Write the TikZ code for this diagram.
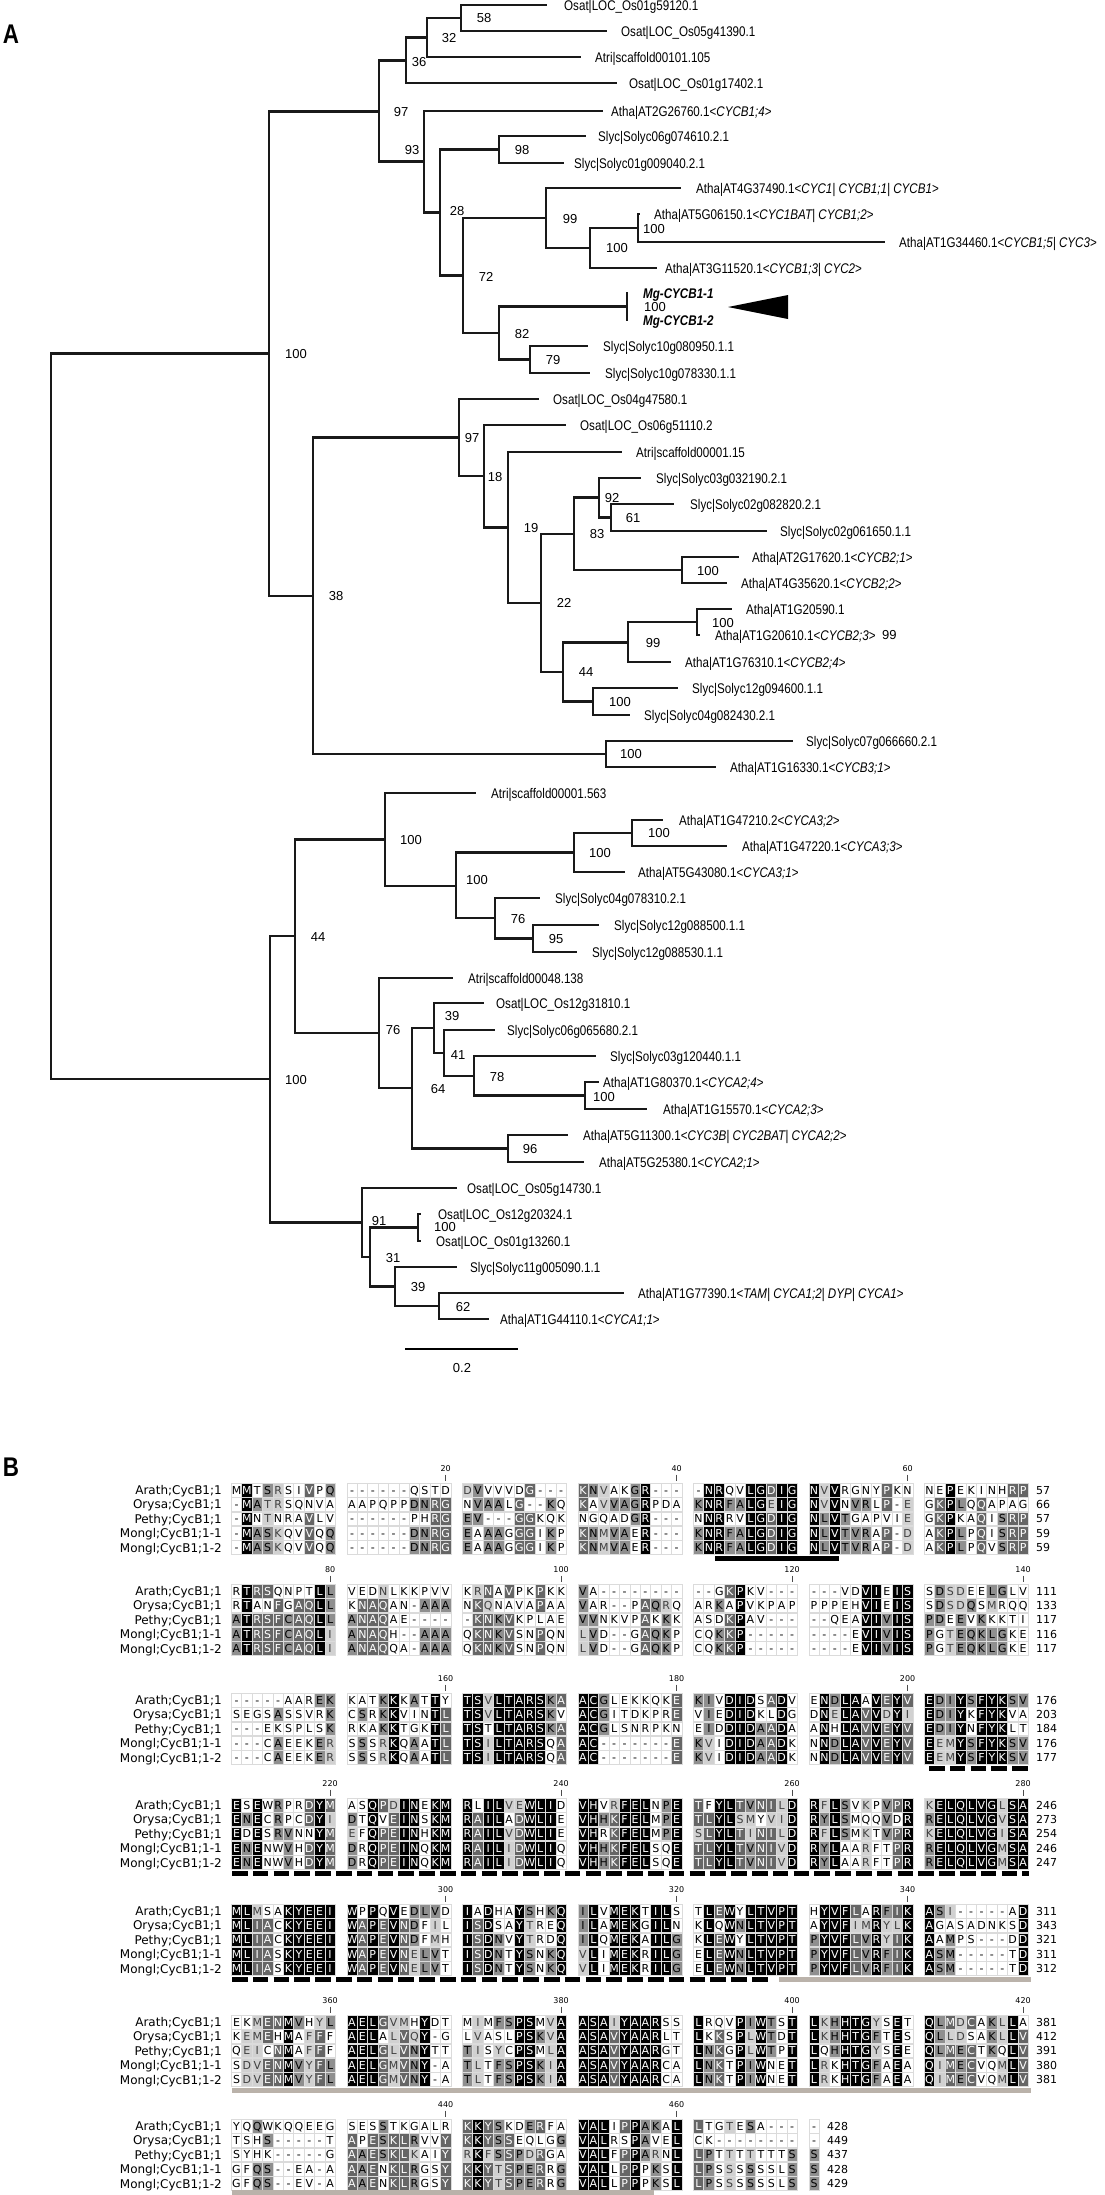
\documentclass[tikz,border=0pt]{standalone}
\usepackage{fontspec}
\setmainfont{Liberation Sans}
\newfontfamily\treefont[FakeStretch=0.83]{Liberation Sans}
\newfontfamily\djfont{DejaVu Sans}
\newcommand\myleaf{\treefont\fontsize{14}{16}\selectfont}
\newcommand\mybs{\fontsize{13}{15}\selectfont}
\newcommand\myres{\djfont\fontsize{11}{13}\selectfont}
\newcommand\mylab{\djfont\fontsize{12}{14}\selectfont}
\newcommand\myrul{\djfont\fontsize{8}{9}\selectfont}
\newcommand\myend{\djfont\fontsize{11}{13}\selectfont}
\newcommand\mypanel{\treefont\bfseries\fontsize{27}{29}\selectfont}
\definecolor{cfourc}{gray}{0.40}
\definecolor{cthreec}{gray}{0.56}
\definecolor{ctwoc}{gray}{0.82}
\definecolor{cellgrid}{gray}{0.86}
\definecolor{bargrey}{RGB}{186,178,170}
\tikzset{
  br/.style={line width=2.1pt, black!90},
  lf/.style={font=\myleaf, anchor=west, inner sep=0pt, text height=10pt, text depth=0pt},
  bs/.style={font=\mybs, anchor=center, inner sep=0pt, text height=9.3pt, text depth=0pt},
  cell/.style={draw=cellgrid, line width=0.5pt},
  cfive/.style={fill=black}, cfivet/.style={text=white},
  cfour/.style={fill=cfourc}, cfourt/.style={text=white},
  cthree/.style={fill=cthreec}, cthreet/.style={text=black},
  ctwo/.style={fill=ctwoc}, ctwot/.style={text=black!75},
  czero/.style={}, czerot/.style={text=black},
  cgap/.style={}, cgapt/.style={text=black},
  celltxt/.style={font=\myres, anchor=base, inner sep=0pt},
  rowlab/.style={font=\mylab, anchor=east, inner sep=0pt, text height=8.8pt, text depth=0pt},
  endnum/.style={font=\myend, anchor=west, inner sep=0pt, text height=8pt, text depth=0pt},
  rulnum/.style={font=\myrul, anchor=center, inner sep=0pt, text height=5.8pt, text depth=0pt},
  rultick/.style={line width=0.6pt, black!70},
  blackbar/.style={line width=5pt, black},
  dashbar/.style={line width=5pt, black, dash pattern=on 15.6pt off 5.2pt},
  greybar/.style={line width=5pt, bargrey},
}
\newcommand\alncell[4]{%
  \path[cell,#1] (#2-5.2,#3-6.9) rectangle (#2+5.2,#3+6.9);
  \node[celltxt,#1t] at (#2,#3+4) {#4};}
\ExplSyntaxOn
\tl_new:N \l__aln_a_tl
\tl_new:N \l__aln_b_tl
\tl_new:N \l__aln_c_tl
\tl_new:N \l__aln_d_tl
\tl_new:N \l__aln_e_tl
\tl_new:N \l__aln_ca_tl
\tl_new:N \l__aln_cb_tl
\tl_new:N \l__aln_cc_tl
\tl_new:N \l__aln_cd_tl
\tl_new:N \l__aln_ce_tl
\tl_new:N \l__aln_x_tl
\tl_new:N \l__aln_y_tl
\tl_new:N \l__aln_yz_tl
\tl_new:N \l__aln_st_tl
\tl_const:Nn \c__aln_gap_tl { - }
\int_new:N \l__aln_cnt_int
\int_new:N \l__aln_sim_int
\cs_new:Npn \__aln_group:n #1
  {
    \str_case:nnF {#1}
      {
        {I}{h} {L}{h} {V}{h} {M}{h}
        {F}{a} {Y}{a} {W}{a}
        {S}{s} {T}{s}
        {D}{d} {E}{d}
        {K}{b} {R}{b}
        {N}{n} {Q}{n}
      }
      {#1}
  }
\cs_generate_variant:Nn \__aln_group:n { V }
\cs_new_protected:Npn \__aln_cell:nN #1#2
  {
    \tl_set:Nx \l__aln_y_tl { \fp_eval:n { \l__aln_yz_tl + 14.4 * #1 } }
    \tl_if_eq:NNTF #2 \c__aln_gap_tl
      { \tl_set:Nn \l__aln_st_tl { cgap } }
      {
        \int_zero:N \l__aln_cnt_int
        \int_zero:N \l__aln_sim_int
        \clist_map_inline:nn
          { \l__aln_ca_tl , \l__aln_cb_tl , \l__aln_cc_tl , \l__aln_cd_tl , \l__aln_ce_tl }
          {
            \tl_if_eq:NNT ##1 #2 { \int_incr:N \l__aln_cnt_int }
            \str_if_eq:eeT { \__aln_group:V ##1 } { \__aln_group:V #2 }
              { \int_incr:N \l__aln_sim_int }
          }
        \int_compare:nNnTF \l__aln_cnt_int = 5
          { \tl_set:Nn \l__aln_st_tl { cfive } }
          {
            \int_compare:nNnTF \l__aln_cnt_int = 4
              { \tl_set:Nn \l__aln_st_tl { cfour } }
              {
                \int_compare:nNnTF \l__aln_cnt_int = 3
                  { \tl_set:Nn \l__aln_st_tl { cthree } }
                  {
                    \int_compare:nNnTF \l__aln_sim_int > 3
                      { \tl_set:Nn \l__aln_st_tl { ctwo } }
                      { \tl_set:Nn \l__aln_st_tl { czero } }
                  }
              }
          }
      }
    \use:e { \exp_not:N \alncell { \l__aln_st_tl } { \l__aln_x_tl } { \l__aln_y_tl } { #2 } }
  }
\cs_new_protected:Npn \AlnBlock #1#2#3#4#5#6
  {
    \tl_set:Nn \l__aln_yz_tl {#1}
    \tl_set:Nn \l__aln_a_tl {#2} \tl_remove_all:Nn \l__aln_a_tl { ~ }
    \tl_set:Nn \l__aln_b_tl {#3} \tl_remove_all:Nn \l__aln_b_tl { ~ }
    \tl_set:Nn \l__aln_c_tl {#4} \tl_remove_all:Nn \l__aln_c_tl { ~ }
    \tl_set:Nn \l__aln_d_tl {#5} \tl_remove_all:Nn \l__aln_d_tl { ~ }
    \tl_set:Nn \l__aln_e_tl {#6} \tl_remove_all:Nn \l__aln_e_tl { ~ }
    \int_step_inline:nn { \str_count:N \l__aln_a_tl }
      {
        \tl_set:Nx \l__aln_ca_tl { \str_item:Nn \l__aln_a_tl {##1} }
        \tl_set:Nx \l__aln_cb_tl { \str_item:Nn \l__aln_b_tl {##1} }
        \tl_set:Nx \l__aln_cc_tl { \str_item:Nn \l__aln_c_tl {##1} }
        \tl_set:Nx \l__aln_cd_tl { \str_item:Nn \l__aln_d_tl {##1} }
        \tl_set:Nx \l__aln_ce_tl { \str_item:Nn \l__aln_e_tl {##1} }
        \tl_set:Nx \l__aln_x_tl
          { \fp_eval:n { 236.5 + 115.5 * \int_div_truncate:nn {##1-1} {10} + 10.4 * \int_mod:nn {##1-1} {10} } }
        \__aln_cell:nN {0} \l__aln_ca_tl
        \__aln_cell:nN {1} \l__aln_cb_tl
        \__aln_cell:nN {2} \l__aln_cc_tl
        \__aln_cell:nN {3} \l__aln_cd_tl
        \__aln_cell:nN {4} \l__aln_ce_tl
      }
  }
\ExplSyntaxOff
\newcommand\alnlab[1]{%
  \node[rowlab] at (222,#1) {Arath;CycB1;1};
  \node[rowlab] at (222,#1+14.4) {Orysa;CycB1;1};
  \node[rowlab] at (222,#1+28.8) {Pethy;CycB1;1};
  \node[rowlab] at (222,#1+43.2) {Mongl;CycB1;1-1};
  \node[rowlab] at (222,#1+57.6) {Mongl;CycB1;1-2};}
\newcommand\alnend[7]{%
  \node[endnum] at (#2,#1) {#3};
  \node[endnum] at (#2,#1+14.4) {#4};
  \node[endnum] at (#2,#1+28.8) {#5};
  \node[endnum] at (#2,#1+43.2) {#6};
  \node[endnum] at (#2,#1+57.6) {#7};}
\newcommand\alnrul[3]{%
  \pgfmathsetmacro\myrx{236.5+115.5*floor((#2-1)/10)+10.4*mod(#2-1,10)}%
  \node[rulnum] at (\myrx,#1-21) {#3};
  \draw[rultick] (\myrx,#1-15.5) -- (\myrx,#1-9.5);}
\newcommand\inode[7]{%
  \coordinate (#1) at (#3,#4);
  \draw[br] (#2) |- (#1);
  \node[bs] (#1l) at (#5,#6) {#7};}
\newcommand\leaf[6]{%
  \coordinate (#1) at (#4,#3);
  \draw[br] (#2) |- (#1);
  \node[lf] (#1t) at (#5,#3) {#6};}
\begin{document}
\begin{tikzpicture}[x=1pt,y=-1pt]
\useasboundingbox (0,0) rectangle (1105,2195);
\fill[white] (0,0) rectangle (1105,2195);
% ---------------- Panel A : tree ----------------
\node[font=\mypanel, inner sep=0pt] (panelA) at (11,34) {A};
\coordinate (r) at (51,716);
\inode{nB}{r}{269}{353.5}{296}{354}{100}
\inode{nA}{r}{270}{1079}{296}{1080}{100}
% B-type cyclins
\inode{n97}{nB}{379}{111.5}{401}{112}{97}
\inode{n36}{n97}{406}{60.5}{419}{62}{36}
\inode{n32}{n36}{427}{37.5}{449}{38}{32}
\inode{n58}{n32}{461}{18}{484}{18}{58}
\leaf{l1}{n58}{5}{547}{564}{Osat|LOC\_Os01g59120.1}
\leaf{l2}{n58}{31}{607}{621}{Osat|LOC\_Os05g41390.1}
\leaf{l3}{n32}{57}{581}{595}{Atri|scaffold00101.105}
\leaf{l4}{n36}{83}{617}{629}{Osat|LOC\_Os01g17402.1}
\inode{n93}{n97}{424}{161.5}{412}{150}{93}
\leaf{l5}{n93}{111}{603}{611}{Atha|AT2G26760.1<\textit{CYCB1;4}>}
\inode{n28}{n93}{440}{212.5}{457}{211}{28}
\inode{n98}{n28}{499}{149.5}{522}{150}{98}
\leaf{l6}{n98}{136}{586}{598}{Slyc|Solyc06g074610.2.1}
\leaf{l7}{n98}{163}{564}{574}{Slyc|Solyc01g009040.2.1}
\inode{n72}{n28}{463}{275.5}{486}{277}{72}
\inode{n99}{n72}{546}{218}{570}{219}{99}
\leaf{l8}{n99}{188}{681}{696}{Atha|AT4G37490.1<\textit{CYC1| CYCB1;1| CYCB1}>}
\inode{n100a}{n99}{590}{248}{617}{248}{100}
\inode{n100b}{n100a}{638}{228}{654}{229}{100}
\leaf{l9}{n100b}{214}{640}{654}{Atha|AT5G06150.1<\textit{CYC1BAT| CYCB1;2}>}
\leaf{l10}{n100b}{242}{885}{899}{Atha|AT1G34460.1<\textit{CYCB1;5| CYC3}>}
\leaf{l11}{n100a}{268}{657}{665}{Atha|AT3G11520.1<\textit{CYCB1;3| CYC2}>}
\inode{n82}{n72}{499}{333}{522}{334}{82}
\inode{nMg}{n82}{627}{306.5}{655}{307}{100}
\leaf{l12}{nMg}{293}{628}{643}{\textbf{\textit{Mg-CYCB1-1}}}
\leaf{l13}{nMg}{320}{628}{643}{\textbf{\textit{Mg-CYCB1-2}}}
\fill (728,307) -- (788,295) -- (788,319) -- cycle;
\inode{n79}{n82}{530}{359.5}{553}{360}{79}
\leaf{l14}{n79}{346}{588}{603}{Slyc|Solyc10g080950.1.1}
\leaf{l15}{n79}{373}{590}{605}{Slyc|Solyc10g078330.1.1}
\inode{n38}{nB}{313}{596}{336}{596}{38}
\inode{n97b}{n38}{459}{437.5}{472}{438}{97}
\leaf{l16}{n97b}{399}{539}{553}{Osat|LOC\_Os04g47580.1}
\inode{n18}{n97b}{484}{476}{495}{477}{18}
\leaf{l17}{n18}{425}{566}{580}{Osat|LOC\_Os06g51110.2}
\inode{n19}{n18}{508}{527.5}{531}{528}{19}
\leaf{l18}{n19}{452}{622}{636}{Atri|scaffold00001.15}
\inode{n22}{n19}{541}{603}{564}{603}{22}
\inode{n83}{n22}{574}{534}{597}{534}{83}
\inode{n92}{n83}{599}{497.5}{612}{498}{92}
\leaf{l19}{n92}{478}{641}{656}{Slyc|Solyc03g032190.2.1}
\inode{n61}{n92}{611}{517.5}{633}{518}{61}
\leaf{l20}{n61}{504}{674}{690}{Slyc|Solyc02g082820.2.1}
\leaf{l21}{n61}{531}{767}{780}{Slyc|Solyc02g061650.1.1}
\inode{n100d}{n83}{682}{570}{708}{571}{100}
\leaf{l22}{n100d}{557}{739}{752}{Atha|AT2G17620.1<\textit{CYCB2;1}>}
\leaf{l23}{n100d}{583}{727}{741}{Atha|AT4G35620.1<\textit{CYCB2;2}>}
\inode{n44b}{n22}{563}{672}{586}{672}{44}
\inode{n99b}{n44b}{628}{642.5}{653}{643}{99}
\inode{n100f}{n99b}{697}{622}{723}{623}{100}
\leaf{l24}{n100f}{609}{732}{746}{Atha|AT1G20590.1}
\leaf{l25}{n100f}{635}{700}{715}{Atha|AT1G20610.1<\textit{CYCB2;3}>}
\node[bs, anchor=west] (x99) at ([xshift=6pt]l25t.east) {99};
\leaf{l26}{n99b}{662}{671}{685}{Atha|AT1G76310.1<\textit{CYCB2;4}>}
\inode{n100e}{n44b}{593}{701.5}{620}{702}{100}
\leaf{l27}{n100e}{688}{678}{692}{Slyc|Solyc12g094600.1.1}
\leaf{l28}{n100e}{715}{630}{644}{Slyc|Solyc04g082430.2.1}
\inode{n100c}{n38}{606}{754}{631}{754}{100}
\leaf{l29}{n100c}{741}{793}{806}{Slyc|Solyc07g066660.2.1}
\leaf{l30}{n100c}{767}{716}{730}{Atha|AT1G16330.1<\textit{CYCB3;1}>}
% A-type cyclins
\inode{n44a}{nA}{295}{936}{318}{937}{44}
\inode{n100g}{n44a}{385}{839.5}{411}{840}{100}
\leaf{l31}{n100g}{793}{476}{491}{Atri|scaffold00001.563}
\inode{n100h}{n100g}{456}{886}{477}{880}{100}
\inode{n100i}{n100h}{574}{852.5}{600}{853}{100}
\inode{n100j}{n100i}{632}{833}{659}{833}{100}
\leaf{l32}{n100j}{820}{663}{679}{Atha|AT1G47210.2<\textit{CYCA3;2}>}
\leaf{l33}{n100j}{846}{727}{742}{Atha|AT1G47220.1<\textit{CYCA3;3}>}
\leaf{l34}{n100i}{872}{625}{638}{Atha|AT5G43080.1<\textit{CYCA3;1}>}
\inode{n76b}{n100h}{495}{918}{518}{919}{76}
\leaf{l35}{n76b}{898}{540}{555}{Slyc|Solyc04g078310.2.1}
\inode{n95}{n76b}{533}{938.5}{556}{939}{95}
\leaf{l36}{n95}{925}{599}{614}{Slyc|Solyc12g088500.1.1}
\leaf{l37}{n95}{952}{577}{592}{Slyc|Solyc12g088530.1.1}
\inode{n76}{n44a}{379}{1033}{393}{1030}{76}
\leaf{l38}{n76}{978}{453}{468}{Atri|scaffold00048.138}
\inode{n64}{n76}{412}{1088}{438}{1089}{64}
\inode{n39}{n64}{434}{1028}{452}{1016}{39}
\leaf{l39}{n39}{1003}{484}{496}{Osat|LOC\_Os12g31810.1}
\inode{n41}{n39}{444}{1053}{458}{1055}{41}
\leaf{l40}{n41}{1030}{495}{507}{Slyc|Solyc06g065680.2.1}
\inode{n78}{n41}{474}{1076}{497}{1077}{78}
\leaf{l41}{n78}{1056}{596}{610}{Slyc|Solyc03g120440.1.1}
\inode{n100k}{n78}{585}{1095.5}{604}{1097}{100}
\leaf{l42}{n100k}{1082}{599}{603}{Atha|AT1G80370.1<\textit{CYCA2;4}>}
\leaf{l43}{n100k}{1109}{647}{663}{Atha|AT1G15570.1<\textit{CYCA2;3}>}
\inode{n96}{n64}{508}{1148.5}{530}{1149}{96}
\leaf{l44}{n96}{1135}{568}{583}{Atha|AT5G11300.1<\textit{CYC3B| CYC2BAT| CYCA2;2}>}
\leaf{l45}{n96}{1162}{584}{599}{Atha|AT5G25380.1<\textit{CYCA2;1}>}
\inode{n91}{nA}{362}{1222.5}{379}{1221}{91}
\leaf{l46}{n91}{1188}{457}{467}{Osat|LOC\_Os05g14730.1}
\inode{n31}{n91}{370}{1257}{393}{1258}{31}
\inode{n100l}{n31}{418}{1227.5}{445}{1227}{100}
\leaf{l47}{n100l}{1214}{421}{438}{Osat|LOC\_Os12g20324.1}
\leaf{l48}{n100l}{1241}{421}{436}{Osat|LOC\_Os01g13260.1}
\inode{n39b}{n31}{395}{1286.5}{418}{1287}{39}
\leaf{l49}{n39b}{1267}{457}{470}{Slyc|Solyc11g005090.1.1}
\inode{n62}{n39b}{439}{1306}{463}{1307}{62}
\leaf{l50}{n62}{1293}{624}{638}{Atha|AT1G77390.1<\textit{TAM| CYCA1;2| DYP| CYCA1}>}
\leaf{l51}{n62}{1319}{489}{500}{Atha|AT1G44110.1<\textit{CYCA1;1}>}
% scale bar
\coordinate (sb1) at (405,1349);
\coordinate (sb2) at (518,1349);
\draw[line width=2.2pt] (sb1) -- (sb2);
\node[bs] (sbl) at (462,1368) {0.2};
% ---------------- Panel B : alignment ----------------
\node[font=\mypanel, inner sep=0pt] (panelB) at (11,1467) {B};
% block 1
\alnrul{1490}{20}{20}\alnrul{1490}{40}{40}\alnrul{1490}{60}{60}
\AlnBlock{1490}
{MMTSRSIVPQ ------QSTD DVVVVDG--- KNVAKGR--- -NRQVLGDIG NVVRGNYPKN NEPEKINHRP}
{-MATRSQNVA AAPQPPDNRG NVAALG--KQ KAVVAGRPDA KNRFALGEIG NVVNVRLP-E GKPLQQAPAG}
{-MNTNRAVLV ------PHRG EV---GGKQK NGQADGR--- NNRRVLGDIG NLVTGAPVIE GKPKAQISRP}
{-MASKQVVQQ ------DNRG EAAAGGGIKP KNMVAER--- KNRFALGDIG NLVTVRAP-D AKPLPQISRP}
{-MASKQVVQQ ------DNRG EAAAGGGIKP KNMVAER--- KNRFALGDIG NLVTVRAP-D AKPLPQVSRP}
\alnlab{1490}\alnend{1490}{1036}{57}{66}{57}{59}{59}
\draw[blackbar] (715,1558.6) -- (839,1558.6);
% block 2
\alnrul{1591}{10}{80}\alnrul{1591}{30}{100}\alnrul{1591}{50}{120}\alnrul{1591}{70}{140}
\AlnBlock{1591}
{RTRSQNPTLL VEDNLKKPVV KRNAVPKPKK VA-------- --GKPKV--- ---VDVIEIS SDSDEELGLV}
{RTANFGAQLL KNAQAN-AAA NKQNAVAPAA VAR--PAQRQ ARKAPVKPAP PPPEHVIEIS SDSDQSMRQQ}
{ATRSFCAQLL ANAQAE---- -KNKVKPLAE VVNKVPAKKK ASDKPAV--- --QEAVIVIS PDEEVKKKTI}
{ATRSFCAQLI ANAQH--AAA QKNKVSNPQN LVD--GAQKP CQKKP----- ----EVIVIS PGTEQKLGKE}
{ATRSFCAQLI ANAQQA-AAA QKNKVSNPQN LVD--GAQKP CQKKP----- ----EVIVIS PGTEQKLGKE}
\alnlab{1591}\alnend{1591}{1036}{111}{133}{117}{116}{117}
% block 3
\alnrul{1700}{20}{160}\alnrul{1700}{40}{180}\alnrul{1700}{60}{200}
\AlnBlock{1700}
{-----AAREK KATKKKATTY TSVLTARSKA ACGLEKKQKE KIVDIDSADV ENDLAAVEYV EDIYSFYKSV}
{SEGSASSVRK CSRKKVINTL TSVLTARSKV ACGITDKPRE VIEDIDKLDG DNELAVVDYI EDIYKFYKVA}
{---EKSPLSK RKAKKTGKTL TSTLTARSKA ACGLSNRPKN EIDDIDAADA ANHLAVVEYV EDIYNFYKLT}
{---CAEEKER SSSRKQAATL TSILTARSQA AC-------E KVIDIDAADK NNDLAVVEYV EEMYSFYKSV}
{---CAEEKER SSSRKQAATL TSILTARSQA AC-------E KVIDIDAADK NNDLAVVEYV EEMYSFYKSV}
\alnlab{1700}\alnend{1700}{1036}{176}{203}{184}{176}{177}
\draw[dashbar] (929,1768.6) -- (1029,1768.6);
% block 4
\alnrul{1805}{10}{220}\alnrul{1805}{30}{240}\alnrul{1805}{50}{260}\alnrul{1805}{70}{280}
\AlnBlock{1805}
{ESEWRPRDYM ASQPDINEKM RLILVEWLID VHVRFELNPE TFYLTVNILD RFLSVKPVPR KELQLVGLSA}
{ENECRPCDYI DTQVEINSKM RAILADWLIE VHHKFELMPE TLYLSMYVID RYLSMQQVDR RELQLVGVSA}
{EDESRVNNYM EFQPEINHKM RAILVDWLIE VHRKFELMPE SLYLTINILD RFLSMKTVPR KELQLVGISA}
{ENENWVHDYM DRQPEINQKM RAILIDWLIQ VHHKFELSQE TLYLTVNIVD RYLAARFTPR RELQLVGMSA}
{ENENWVHDYM DRQPEINQKM RAILIDWLIQ VHHKFELSQE TLYLTVNIVD RYLAARFTPR RELQLVGMSA}
\alnlab{1805}\alnend{1805}{1036}{246}{273}{254}{246}{247}
\draw[dashbar] (232,1873.6) -- (1029,1873.6);
% block 5
\alnrul{1911}{20}{300}\alnrul{1911}{40}{320}\alnrul{1911}{60}{340}
\AlnBlock{1911}
{MLMSAKYEEI WPPQVEDLVD IADHAYSHKQ ILVMEKTILS TLEWYLTVPT HYVFLARFIK ASI-----AD}
{MLIACKYEEI WAPEVNDFIL ISDSAYTREQ ILAMEKGILN KLQWNLTVPT AYVFIMRYLK AGASADNKSD}
{MLIACKYEEI WAPEVNDFMH ISDNVYTRDQ ILQMEKAILG KLEWYLTVPT PYVFLVRYIK AAMPS---DD}
{MLIASKYEEI WAPEVNELVT ISDNTYSNKQ VLIMEKRILG ELEWNLTVPT PYVFLVRFIK ASM-----TD}
{MLIASKYEEI WAPEVNELVT ISDNTYSNKQ VLIMEKRILG ELEWNLTVPT PYVFLVRFIK ASM-----TD}
\alnlab{1911}\alnend{1911}{1036}{311}{343}{321}{311}{312}
\draw[dashbar] (232,1979.6) -- (768,1979.6);
\draw[greybar] (779,1979.6) -- (1031,1979.6);
% block 6
\alnrul{2022}{10}{360}\alnrul{2022}{30}{380}\alnrul{2022}{50}{400}\alnrul{2022}{70}{420}
\AlnBlock{2022}
{EKMENMVHYL AELGVMHYDT MIMFSPSMVA ASAIYAARSS LRQVPIWTST LKHHTGYSET QLMDCAKLLA}
{KEMEHMAFFF AELALVQY-G LVASLPSKVA ASAVYAARLT LKKSPLWTDT LKHHTGFTES QLLDSAKLLV}
{QEICNMAFFF AELGLVNYTT TISYCPSMLA ASAVYAARGT LNKGPLWTPT LQHHTGYSEE QLMECTKQLV}
{SDVENMVYFL AELGMVNY-A TLTFSPSKIA ASAVYAARCA LNKTPIWNET LRKHTGFAEA QIMECVQMLV}
{SDVENMVYFL AELGMVNY-A TLTFSPSKIA ASAVYAARCA LNKTPIWNET LRKHTGFAEA QIMECVQMLV}
\alnlab{2022}\alnend{2022}{1036}{381}{412}{391}{380}{381}
\draw[greybar] (232,2090.6) -- (1031,2090.6);
% block 7
\alnrul{2126}{20}{440}\alnrul{2126}{40}{460}
\AlnBlock{2126}
{YQQWKQQEEG SESSTKGALR KKYSKDERFA VALIPPAKAL LTGTESA--- -}
{TSHS-----T APESKLRVVY KKYSSEQLGG VALRSPAVEL CK-------- -}
{SYHK-----G AAESKLKAIY RKFSSPDRGA VALFPPARNL LPTTTTTTTS S}
{GFQS--EA-A AAENKLRGSY KKYTSPERRG VALLPPPKSL LPSSSSSSLS S}
{GFQS--EV-A AAENKLRGSY KKYTSPERRG VALLPPPKSL LPSSSSSSLS S}
\alnlab{2126}\alnend{2126}{827}{428}{449}{437}{428}{429}
\draw[greybar] (232,2192) -- (654,2192);
\end{tikzpicture}
\end{document}
